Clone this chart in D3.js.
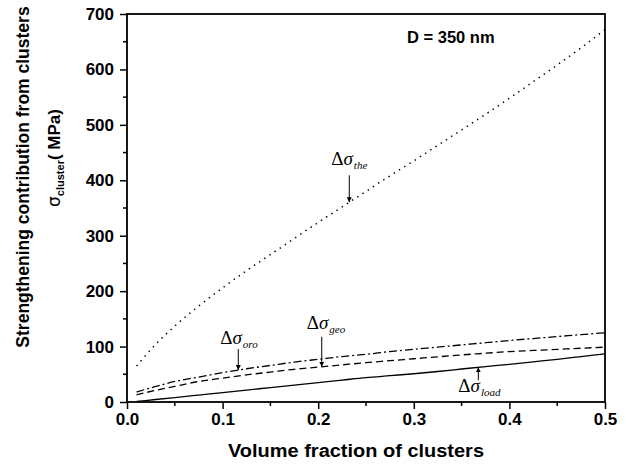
<!DOCTYPE html>
<html>
<head>
<meta charset="utf-8">
<script src="https://cdn.jsdelivr.net/npm/d3@7"></script>
<style>
  html, body { margin: 0; padding: 0; background: #fff; }
  svg { display: block; }
</style>
</head>
<body>
<svg id="chart" width="627" height="466"></svg>
<script>
// ---- data ----
const volumeFraction = [0.01, 0.03, 0.05, 0.075, 0.1, 0.125, 0.15, 0.175, 0.2, 0.225, 0.25,
                        0.275, 0.3, 0.325, 0.35, 0.375, 0.4, 0.425, 0.45, 0.475, 0.5];
const sigmaThe  = [65, 104, 137, 173, 206, 237, 266, 295, 324, 352, 380,
                   408, 435, 463, 491, 519, 548, 578, 608, 639, 672];
const sigmaOro  = [18, 28, 37, 45, 53, 60, 66, 72, 77, 82, 86,
                   91, 95, 99, 103, 107, 111, 114.5, 118, 121.5, 125];
const sigmaGeo  = [13, 21, 28, 37, 43, 49, 54, 59, 63, 67, 71,
                   74.5, 78, 81.5, 85, 88, 91, 93, 95, 97, 99];
const sigmaLoad = [1, 4.5, 8, 12.5, 17, 21.5, 26, 30.5, 35, 39.5, 44,
                   47.5, 51, 55, 59.5, 64, 68, 72.5, 77, 82, 87];
const xTickValues = [0, 0.1, 0.2, 0.3, 0.4, 0.5];
const yTickValues = [0, 100, 200, 300, 400, 500, 600, 700];
const xTickLabels = ["0.0", "0.1", "0.2", "0.3", "0.4", "0.5"];

// ---- layout ----
const svg = d3.select("#chart");
const L = 127, R = 605, T = 14, B = 402;
const x = d3.scaleLinear().domain([0, 0.5]).range([L, R]);
const y = d3.scaleLinear().domain([0, 700]).range([B, T]);
const sans = "Arial, 'Liberation Sans', sans-serif";
const serif = "'Liberation Serif', 'Times New Roman', serif";

// ---- axes ----
const xAxis = d3.axisBottom(x).tickValues(xTickValues)
  .tickFormat((d, i) => xTickLabels[i]).tickSize(7).tickPadding(4);
const yAxis = d3.axisLeft(y).tickValues(yTickValues)
  .tickFormat(d3.format("d")).tickSize(7).tickPadding(6);

const gx = svg.append("g").attr("transform", `translate(0,${B})`).call(xAxis);
const gy = svg.append("g").attr("transform", `translate(${L},0)`).call(yAxis);
[gx, gy].forEach(g => {
  g.select(".domain").remove();
  g.selectAll(".tick line").attr("stroke", "#000").attr("stroke-width", 1.5);
  g.selectAll(".tick text").attr("fill", "#000")
    .style("font-family", sans).style("font-weight", "bold").style("font-size", "17px");
});

// minor ticks
const xMinor = d3.range(0.05, 0.5, 0.1);
svg.append("g").selectAll("line").data(xMinor).join("line")
  .attr("x1", d => x(d)).attr("x2", d => x(d))
  .attr("y1", B).attr("y2", B + 4)
  .attr("stroke", "#000").attr("stroke-width", 1.5);
const yMinor = d3.range(50, 700, 100);
svg.append("g").selectAll("line").data(yMinor).join("line")
  .attr("y1", d => y(d)).attr("y2", d => y(d))
  .attr("x1", L).attr("x2", L - 4)
  .attr("stroke", "#000").attr("stroke-width", 1.5);

// frame
svg.append("rect").attr("x", L).attr("y", T).attr("width", R - L).attr("height", B - T)
  .attr("fill", "none").attr("stroke", "#000").attr("stroke-width", 1.8);

// ---- curves ----
const line = d3.line().x(d => x(d[0])).y(d => y(d[1])).curve(d3.curveMonotoneX);
const seriesList = [
  { vals: sigmaThe,  dash: "1.4,4.8", width: 1.5 },
  { vals: sigmaOro,  dash: "8,3,2,3", width: 1.3 },
  { vals: sigmaGeo,  dash: "7,4",     width: 1.3 },
  { vals: sigmaLoad, dash: null,      width: 1.3 }
];
seriesList.forEach(s => {
  svg.append("path")
    .datum(volumeFraction.map((v, i) => [v, s.vals[i]]))
    .attr("d", line)
    .attr("fill", "none").attr("stroke", "#000")
    .attr("stroke-width", s.width)
    .attr("stroke-dasharray", s.dash);
});

// ---- annotations ----
function valueAt(vals, xv) {
  for (let i = 0; i < volumeFraction.length - 1; i++) {
    const a = volumeFraction[i], b = volumeFraction[i + 1];
    if (xv >= a && xv <= b) return vals[i] + (vals[i + 1] - vals[i]) * (xv - a) / (b - a);
  }
  return vals[vals.length - 1];
}
svg.append("defs").append("marker")
  .attr("id", "ah").attr("viewBox", "0 0 10 10").attr("refX", 10).attr("refY", 5)
  .attr("markerWidth", 5).attr("markerHeight", 7).attr("markerUnits", "userSpaceOnUse")
  .attr("orient", "auto")
  .append("path").attr("d", "M0,0 L10,5 L0,10 Z").attr("fill", "#000");

const notes = [
  { vals: sigmaThe,  xv: 0.2325, sub: "the",  dx: -18, base: -37,  a0: -27 },
  { vals: sigmaOro,  xv: 0.1164, sub: "oro",  dx: -18, base: -26.5, a0: -21 },
  { vals: sigmaGeo,  xv: 0.2037, sub: "geo",  dx: -15, base: -37.5, a0: -30 },
  { vals: sigmaLoad, xv: 0.3675, sub: "load", dx: -20, base: 25,   a0: 13 }
];
notes.forEach(n => {
  const tx = x(n.xv), ty = y(valueAt(n.vals, n.xv));
  svg.append("line")
    .attr("x1", tx).attr("y1", ty + n.a0).attr("x2", tx).attr("y2", ty)
    .attr("stroke", "#000").attr("stroke-width", 1).attr("marker-end", "url(#ah)");
  const t = svg.append("text").attr("x", tx + n.dx).attr("y", ty + n.base)
    .style("font-family", serif).style("font-size", "19px").attr("fill", "#000");
  t.append("tspan").text("Δ");
  t.append("tspan").style("font-style", "italic").text("σ");
  t.append("tspan").style("font-style", "italic").style("font-size", "11px")
    .attr("dy", 4).attr("dx", 1).text(n.sub);
});

// ---- text ----
svg.append("text").attr("x", 407).attr("y", 43)
  .style("font-family", sans).style("font-weight", "bold").style("font-size", "16.5px")
  .text("D = 350 nm");

svg.append("text").attr("x", 356).attr("y", 457).attr("text-anchor", "middle")
  .attr("textLength", 256).attr("lengthAdjust", "spacingAndGlyphs")
  .style("font-family", sans).style("font-weight", "bold").style("font-size", "18px")
  .text("Volume fraction of clusters");

svg.append("text").attr("transform", "translate(28.5,177) rotate(-90)")
  .attr("text-anchor", "middle")
  .style("font-family", sans).style("font-weight", "bold").style("font-size", "17.5px")
  .text("Strengthening contribution from clusters");

const t2 = svg.append("text").attr("transform", "translate(60,158) rotate(-90)")
  .attr("text-anchor", "middle")
  .style("font-family", sans).style("font-size", "17px").attr("fill", "#000");
t2.append("tspan").style("font-family", "'DejaVu Sans', sans-serif").text("σ");
t2.append("tspan").style("font-weight", "bold").style("font-size", "11px").attr("dy", 4).text("cluster");
t2.append("tspan").style("font-weight", "bold").attr("dy", -4).text("( MPa)");
</script>
</body>
</html>
